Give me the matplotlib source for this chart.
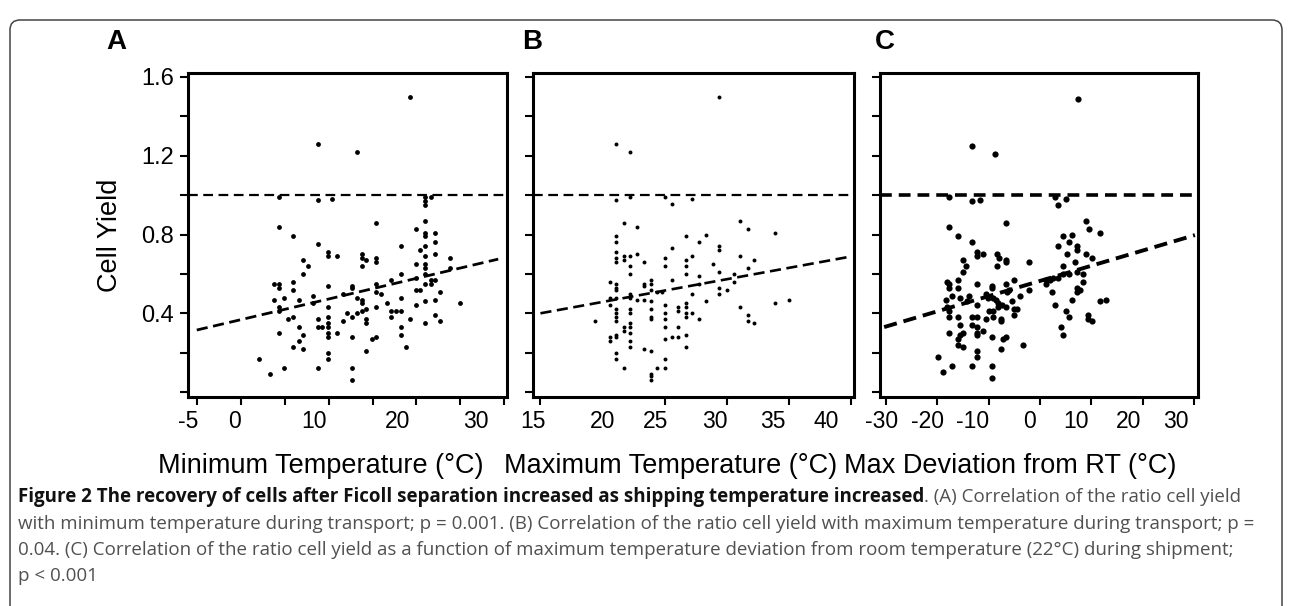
import matplotlib
matplotlib.use('Agg')
import matplotlib.pyplot as plt
from matplotlib import font_manager
from matplotlib.patches import FancyBboxPatch
from matplotlib.transforms import IdentityTransform
import numpy as np

plt.rcParams['font.family'] = ['Liberation Sans', 'DejaVu Sans']
plt.rcParams['axes.unicode_minus'] = False
plt.rcParams['lines.scale_dashes'] = False

# ---- data ----
# panel A: minimum temperature vs cell yield
min_temp = [4.3, 8.8, 8.8, 10.4, 13.2, 19.3, 21, 21, 21, 21.6,
            4.3, 6.0, 8.8, 9.9, 9.9, 11.0, 13.8, 13.8, 13.8, 7.1, 7.7, 7.1, 3.8, 4.3, 4.3,
            6.0, 6.0, 9.9, 12.7, 12.7, 11.6, 13.2, 13.8, 13.8, 3.8, 4.9, 6.6, 8.2, 8.2, 9.9,
            4.3, 4.3, 5.4, 6.0, 6.6, 7.1, 6.6, 6.0, 7.1, 4.3, 8.8, 8.8, 9.3, 9.9, 9.9, 9.9,
            9.9, 9.9, 9.9, 9.9, 11.0, 11.6, 12.1, 12.7, 13.2, 13.8, 12.7, 12.7, 12.7, 8.8,
            4.9, 3.3, 2.1,
            15.4, 19.9, 21, 21, 21, 22.1, 22.1, 20.4, 21, 21, 22.1, 18.2, 14.3, 15.4, 15.4,
            23.8, 23.8, 19.9, 21, 21, 21, 18.2, 17.1, 15.4, 15.4, 16.0, 19.9, 21.6, 22.1, 21,
            21.6, 19.9, 20.4, 22.7, 16.6, 18.2, 19.9, 21, 22.1, 24.9, 17.1, 17.7, 17.1, 18.2,
            15.4, 14.3, 14.3, 14.3, 19.3, 22.1, 22.7, 21, 18.2, 18.2, 15.4, 14.9, 18.8, 14.3]
yield_a = [0.99, 1.26, 0.975, 0.98, 1.22, 1.50, 0.99, 0.97, 0.95, 0.99,
           0.84, 0.79, 0.75, 0.71, 0.69, 0.69, 0.70, 0.68, 0.64, 0.67, 0.64, 0.60, 0.55, 0.55, 0.53,
           0.56, 0.52, 0.54, 0.54, 0.53, 0.50, 0.48, 0.47, 0.45, 0.47, 0.48, 0.47, 0.49, 0.45, 0.43,
           0.43, 0.41, 0.37, 0.38, 0.33, 0.29, 0.26, 0.23, 0.22, 0.30, 0.37, 0.33, 0.33, 0.38, 0.35, 0.33,
           0.30, 0.28, 0.20, 0.17, 0.30, 0.36, 0.40, 0.38, 0.40, 0.41, 0.28, 0.12, 0.06, 0.12,
           0.12, 0.09, 0.17,
           0.86, 0.83, 0.87, 0.81, 0.79, 0.81, 0.76, 0.72, 0.74, 0.69, 0.70, 0.74, 0.67, 0.68, 0.66,
           0.68, 0.63, 0.65, 0.65, 0.63, 0.60, 0.60, 0.57, 0.55, 0.51, 0.50, 0.58, 0.57, 0.57, 0.55,
           0.55, 0.52, 0.52, 0.51, 0.45, 0.48, 0.44, 0.46, 0.47, 0.45, 0.41, 0.41, 0.38, 0.41,
           0.43, 0.42, 0.37, 0.35, 0.37, 0.39, 0.36, 0.35, 0.33, 0.29, 0.28, 0.27, 0.23, 0.21]

# panel B: maximum temperature vs cell yield
max_temp = [21.1, 22.2, 21.1, 22.2, 25.0, 25.6, 27.2, 21.7, 22.8, 29.4,
            21.1, 21.1, 21.1, 21.1, 21.1, 21.7, 21.7, 22.2, 22.8, 22.2, 22.2, 23.3, 20.6, 21.1,
            21.1, 21.1, 20.6, 20.6, 21.1, 22.2, 22.2, 22.8, 23.3, 23.3, 23.9, 23.9, 23.9, 23.3,
            23.9, 24.4, 24.8, 25.0, 25.0, 25.6, 25.6, 26.7, 26.7, 26.7, 26.7, 27.2, 27.8, 28.3,
            27.8, 27.8, 27.2, 26.7, 26.7, 26.7, 26.7, 26.1, 26.1, 27.2, 27.8, 28.3, 28.9, 19.4,
            20.6, 20.6, 21.1, 21.1, 21.1, 21.1, 21.1, 21.1, 21.1, 21.1, 21.7, 21.7, 22.2, 22.2,
            22.2, 22.2, 22.2, 22.2, 22.2, 21.7, 23.3, 23.9, 23.9, 23.9, 23.9, 23.9, 23.9, 23.9,
            24.4, 25.0, 25.0, 25.0, 25.0, 25.0, 25.0, 25.0, 25.6, 26.1, 26.1, 26.7, 26.7,
            29.4, 29.4, 29.4, 29.4, 29.4, 30.0, 30.6, 30.6, 31.1, 31.7, 31.1, 31.7, 32.2, 31.1,
            31.7, 31.7, 32.2, 33.9, 33.9, 35.0]
yield_b = [1.26, 1.22, 0.975, 0.99, 0.99, 0.955, 0.98, 0.86, 0.84, 1.50,
           0.79, 0.76, 0.71, 0.68, 0.66, 0.69, 0.67, 0.69, 0.70, 0.64, 0.60, 0.66, 0.56, 0.55,
           0.53, 0.52, 0.48, 0.44, 0.48, 0.50, 0.48, 0.47, 0.55, 0.54, 0.57, 0.55, 0.52, 0.47,
           0.46, 0.51, 0.51, 0.68, 0.64, 0.57, 0.73, 0.79, 0.67, 0.64, 0.60, 0.69, 0.76, 0.80,
           0.59, 0.55, 0.50, 0.45, 0.43, 0.40, 0.38, 0.43, 0.41, 0.40, 0.37, 0.46, 0.65, 0.36,
           0.28, 0.26, 0.42, 0.40, 0.38, 0.36, 0.29, 0.28, 0.20, 0.17, 0.33, 0.31, 0.42, 0.40,
           0.35, 0.33, 0.30, 0.26, 0.23, 0.12, 0.22, 0.21, 0.42, 0.38, 0.37, 0.09, 0.08, 0.06,
           0.12, 0.44, 0.40, 0.37, 0.33, 0.27, 0.17, 0.12, 0.28, 0.33, 0.28, 0.29, 0.23,
           0.74, 0.72, 0.61, 0.53, 0.50, 0.52, 0.60, 0.56, 0.87, 0.83, 0.69, 0.63, 0.67, 0.43,
           0.39, 0.36, 0.35, 0.81, 0.45, 0.47]

# panel C: max deviation from room temperature vs cell yield
max_dev = [-17.7, -17.7, -13.2, -8.7, -13.2, -11.7, -6.6, 2.9, 3.5, 5.0, 7.4,
           -15.9, -13.2, -12.2, -12.2, -11.1, -8.3, -8.0, -8.3, -6.6, -6.6, -15.0, -14.4, -15.0,
           -2.1, -18.1, -17.7, -15.9, -17.7, -15.9, -12.2, -9.3, -9.3, -6.6, -5.0, -2.1, -18.3,
           -17.1, -15.5, -13.8, -10.5, -10.1, -9.1, -8.5, -8.2, -6.4, -6.0, -5.4, -3.9, -18.1,
           -17.7, -14.2, -12.2, -9.9, -9.1, -8.2, -7.4, -6.6, -5.0, -4.5, -5.0, -17.7, -15.9,
           -13.2, -12.2, -10.5, -9.1, -7.6, -7.6, -15.5, -15.5, -13.2, -12.2, -12.2, -12.2,
           -11.1, -17.7, -15.9, -15.9, -15.0, -15.0, -9.3, -7.2, -6.6, -7.6, -3.3, -12.2, -12.2,
           -19.8, -17.1, -13.2, -9.3, -9.3, -18.8,
           4.5, 6.2, 5.6, 3.5, 5.2, 6.8, 4.5, 4.5, 5.6, 7.2, 1.2, 1.2, 1.9, 2.5, 3.5, 2.3, 7.2,
           7.2, 2.9, 6.2, 5.0, 5.6, 4.1, 4.5,
           8.9, 9.5, 11.7, 7.2, 7.2, 8.9, 10.1, 8.3, 8.3, 7.8, 11.7, 12.8, 9.3, 9.3, 10.1]
yield_c = [0.99, 0.84, 1.25, 1.21, 0.97, 0.975, 0.86, 0.99, 0.95, 0.98, 1.49,
           0.79, 0.76, 0.71, 0.69, 0.70, 0.70, 0.68, 0.64, 0.67, 0.66, 0.67, 0.64, 0.61,
           0.66, 0.56, 0.55, 0.57, 0.53, 0.53, 0.55, 0.54, 0.53, 0.55, 0.57, 0.52, 0.47,
           0.49, 0.48, 0.49, 0.50, 0.48, 0.48, 0.47, 0.45, 0.51, 0.52, 0.46, 0.49, 0.43,
           0.41, 0.46, 0.44, 0.41, 0.41, 0.43, 0.44, 0.43, 0.42, 0.42, 0.39, 0.38, 0.38,
           0.38, 0.38, 0.37, 0.38, 0.37, 0.36, 0.34, 0.29, 0.34, 0.33, 0.30, 0.29,
           0.31, 0.30, 0.27, 0.24, 0.30, 0.23, 0.28, 0.27, 0.28, 0.22, 0.24, 0.21, 0.18,
           0.18, 0.13, 0.13, 0.13, 0.07, 0.10,
           0.79, 0.80, 0.76, 0.74, 0.70, 0.66, 0.64, 0.60, 0.60, 0.61, 0.57, 0.55, 0.57, 0.58,
           0.58, 0.51, 0.53, 0.51, 0.44, 0.47, 0.41, 0.38, 0.33, 0.29,
           0.87, 0.83, 0.81, 0.74, 0.72, 0.70, 0.68, 0.60, 0.56, 0.52, 0.46, 0.47, 0.39, 0.37, 0.36]

# fitted trend lines (end points)
fit_x_a, fit_y_a = [-5, 29.3], [0.315, 0.675]
fit_x_b, fit_y_b = [15, 39.8], [0.40, 0.686]
fit_x_c, fit_y_c = [-30.3, 30.1], [0.33, 0.797]

# ticks
y_ticks = [0, 0.2, 0.4, 0.6, 0.8, 1.0, 1.2, 1.4, 1.6]
y_ticklabels = ['', '', '0.4', '', '0.8', '', '1.2', '', '1.6']
x_ticks_a = [-5, 0, 5, 10, 15, 20, 25, 30]
x_lab_pos_a = [-6.0, -0.7, 8.3, 17.8, 26.7]
x_lab_a = ['-5', '0', '10', '20', '30']
x_ticks_b = [15, 20, 25, 30, 35, 40]
x_lab_pos_b = [14.4, 20.0, 24.3, 29.0, 33.7, 38.0]
x_lab_b = ['15', '20', '25', '30', '35', '40']
x_ticks_c = [-30, -20, -10, 0, 10, 20, 30]
x_lab_pos_c = [-30.7, -21.9, -13.2, -2.1, 6.9, 17.3, 26.4]
x_lab_c = ['-30', '-20', '-10', '0', '10', '20', '30']

W, H = 1292, 606
fig = plt.figure(figsize=(W / 100, H / 100), dpi=100)

def fx(x):
    return x / W

def fy(y):
    return 1 - y / H

def make_axes(left, right, top=73, bottom=397):
    return fig.add_axes([fx(left), fy(bottom), fx(right - left), (bottom - top) / H])

def style(ax, xlim, xticks, labpos, labs, show_y):
    ax.set_xlim(*xlim)
    ax.set_ylim(-0.025, 1.62)
    for s in ax.spines.values():
        s.set_linewidth(2.2)
    ax.set_yticks(y_ticks)
    ax.set_yticklabels(y_ticklabels if show_y else [''] * len(y_ticks))
    ax.tick_params(axis='y', direction='out', length=6, width=1.5, pad=4, labelsize=17)
    ax.set_xticks(xticks, minor=True)
    ax.set_xticks(labpos)
    ax.set_xticklabels(labs)
    ax.tick_params(axis='x', which='minor', direction='out', length=6, width=1.5)
    ax.tick_params(axis='x', which='major', length=0, pad=9, labelsize=16.5)

axA = make_axes(188, 507)
axB = make_axes(533, 854)
axC = make_axes(880, 1198)

# A
axA.axhline(1.0, color='black', lw=1.6, dashes=(7, 4))
axA.plot(fit_x_a, fit_y_a, color='black', lw=2.0, dashes=(8, 4))
axA.scatter(min_temp, yield_a, s=12, color='black', lw=0, zorder=3)
style(axA, (-5.1, 30.3), x_ticks_a, x_lab_pos_a, x_lab_a, True)

# B
axB.axhline(1.0, color='black', lw=1.6, dashes=(7, 4))
axB.plot(fit_x_b, fit_y_b, color='black', lw=1.9, dashes=(8, 4))
axB.scatter(max_temp, yield_b, s=8, color='black', lw=0, zorder=3)
style(axB, (14.76, 40.24), x_ticks_b, x_lab_pos_b, x_lab_b, False)

# C
axC.axhline(1.0, color='black', lw=2.6, dashes=(8.5, 5))
axC.plot(fit_x_c, fit_y_c, color='black', lw=2.8, dashes=(9.5, 5))
axC.scatter(max_dev, yield_c, s=20, color='black', lw=0, zorder=3)
style(axC, (-31.1, 30.7), x_ticks_c, x_lab_pos_c, x_lab_c, False)

# panel letters and axis titles
for letter, x in [('A', 116), ('B', 532), ('C', 885)]:
    fig.text(fx(x), fy(42), letter, fontsize=20, fontweight='bold', va='center', ha='center')
fig.text(fx(110), fy(235), 'Cell Yield', fontsize=19.5, rotation=90, ha='center', va='center')
fig.text(fx(321), fy(466), 'Minimum Temperature (°C)', fontsize=19.5, ha='center', va='center')
fig.text(fx(671), fy(466), 'Maximum Temperature (°C)', fontsize=19.5, ha='center', va='center')
fig.text(fx(1010), fy(466), 'Max Deviation from RT (°C)', fontsize=19.5, ha='center', va='center')

# caption
names = {f.name for f in font_manager.fontManager.ttflist}
cap_family = ['Liberation Sans Narrow', 'DejaVu Sans'] if 'Liberation Sans Narrow' in names \
    else ['Open Sans', 'DejaVu Sans']
cap_bold = 'Figure 2 The recovery of cells after Ficoll separation increased as shipping temperature increased'
cap_lines = [
    '. (A) Correlation of the ratio cell yield',
    'with minimum temperature during transport; p = 0.001. (B) Correlation of the ratio cell yield '
    'with maximum temperature during transport; p =',
    '0.04. (C) Correlation of the ratio cell yield as a function of maximum temperature deviation '
    'from room temperature (22°C) during shipment;',
    'p < 0.001',
]
renderer = fig.canvas.get_renderer()
probe = fig.text(0, 0, cap_lines[1], fontsize=10, family=cap_family)
w10 = probe.get_window_extent(renderer).width
probe.remove()
cs = 10 * (1255 - 18) / w10
gray = '#505050'
t1 = fig.text(fx(18), fy(497), cap_bold, fontsize=cs, fontweight='bold',
              family=cap_family, va='center', color='#111111')
bb = t1.get_window_extent(renderer)
fig.text(bb.x1 / W, fy(497), cap_lines[0], fontsize=cs, family=cap_family,
         va='center', color=gray)
for yy, line in zip([524, 550, 576], cap_lines[1:]):
    fig.text(fx(18), fy(yy), line, fontsize=cs, family=cap_family, va='center', color=gray)

# rounded frame around the whole figure
frame = FancyBboxPatch((10, -30), 1272, H - 10 + 30 - 10, boxstyle='round,pad=0,rounding_size=10',
                       transform=IdentityTransform(), fill=False, edgecolor='#444444', lw=1.1)
fig.patches.append(frame)

fig.savefig('out.png', dpi=100)
